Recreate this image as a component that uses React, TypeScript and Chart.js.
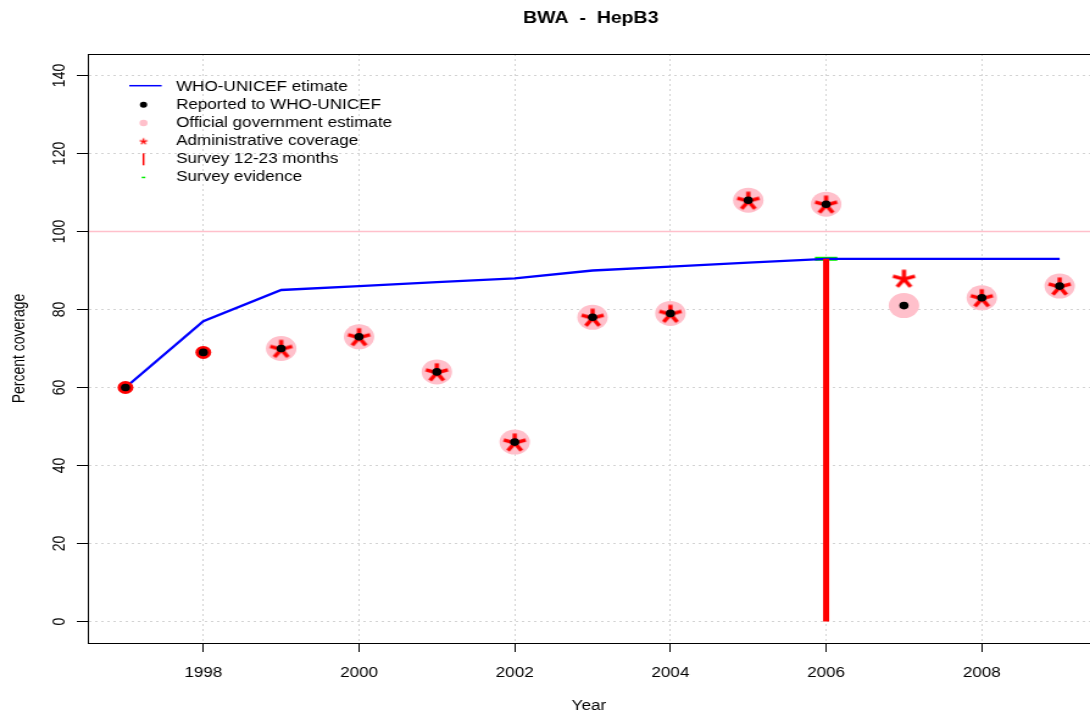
import { useEffect, useRef } from "react";
import { Chart, registerables } from "chart.js";

Chart.register(...registerables);

// ---------------- data ----------------
const years = [1997, 1998, 1999, 2000, 2001, 2002, 2003, 2004, 2005, 2006, 2007, 2008, 2009];
const whoEstimate = [60, 77, 85, 86, 87, 88, 90, 91, 92, 93, 93, 93, 93];
const reported = [60, 69, 70, 73, 64, 46, 78, 79, 108, 107, 81, 83, 86];
const official = [null, null, 70, 73, 64, 46, 78, 79, 108, 107, 81, 83, 86];
const adminCoverage = [60, 69, 70, 73, 64, 46, 78, 79, 108, 107, 88, 83, 86];
const surveyYears = [2006];
const surveyValues = [93];
const evidenceYears = [2006];
const evidenceValues = [93];
const xTicks = [1998, 2000, 2002, 2004, 2006, 2008];
const yTicks = [0, 20, 40, 60, 80, 100, 120, 140];
const referenceLine = 100;
const legendLabels = [
  "WHO-UNICEF etimate",
  "Reported to WHO-UNICEF",
  "Official government estimate",
  "Administrative coverage",
  "Survey 12-23 months",
  "Survey evidence",
];
const titleText = "BWA  -  HepB3";
const xTitle = "Year";
const yTitle = "Percent coverage";

// ---------------- layout ----------------
const CW = 894;
const CH = 717;
const FONT = '"Liberation Sans", Arial, Helvetica, sans-serif';

function makeStar(r: number, lw: number): HTMLCanvasElement {
  const size = Math.ceil(2 * r + lw * 2 + 2);
  const c = document.createElement("canvas");
  c.width = size;
  c.height = size;
  const g = c.getContext("2d")!;
  g.strokeStyle = "#ff0000";
  g.lineWidth = lw;
  g.lineCap = "butt";
  const cx = size / 2;
  const cy = size / 2 + 0.095 * r;
  for (let k = 0; k < 5; k++) {
    const a = (-90 + k * 72) * (Math.PI / 180);
    g.beginPath();
    g.moveTo(cx, cy);
    g.lineTo(cx + r * Math.cos(a), cy + r * Math.sin(a));
    g.stroke();
  }
  return c;
}

export default function App() {
  const ref = useRef<HTMLCanvasElement | null>(null);

  useEffect(() => {
    const canvas = ref.current;
    if (!canvas) return;
    const star = makeStar(9.5, 3.4);
    const smallStar = makeStar(3.2, 1.3);

    const pts = (xs: number[], ys: (number | null)[]) =>
      xs
        .map((x, i) => ({ x, y: ys[i] }))
        .filter((p) => p.y !== null && p.y !== undefined) as { x: number; y: number }[];

    const surveyBar = surveyYears.flatMap((x, i) => [
      { x, y: 0 },
      { x, y: surveyValues[i] },
    ]);

    const decor = {
      id: "rdecor",
      beforeDatasetsDraw(chart: any) {
        const { ctx, chartArea: a, scales } = chart;
        const py = scales.y.getPixelForValue(referenceLine);
        ctx.save();
        ctx.strokeStyle = "#ffc0cb";
        ctx.lineWidth = 1.6;
        ctx.beginPath();
        ctx.moveTo(a.left, py);
        ctx.lineTo(a.right, py);
        ctx.stroke();
        ctx.restore();
      },
      afterDraw(chart: any) {
        const { ctx, chartArea: a } = chart;
        ctx.save();
        // frame (R box)
        ctx.strokeStyle = "#000";
        ctx.lineWidth = 1;
        ctx.strokeRect(a.left + 0.5, a.top + 0.5, a.right - a.left + 10, a.bottom - a.top);
        // title
        ctx.fillStyle = "#000";
        ctx.font = `bold 16px ${FONT}`;
        ctx.textAlign = "center";
        ctx.textBaseline = "middle";
        ctx.fillText(titleText, (a.left + a.right) / 2 + 1.5, 18.5);
        // legend
        const sx = 117.7;
        const tx = 144.4;
        const y0 = 86.7;
        const dy = 18.15;
        ctx.font = `14px ${FONT}`;
        ctx.textAlign = "left";
        legendLabels.forEach((lab, i) => {
          const y = y0 + i * dy;
          ctx.fillStyle = "#000";
          ctx.fillText(lab, tx, y);
          if (i === 0) {
            ctx.strokeStyle = "#0000ff";
            ctx.lineWidth = 1.5;
            ctx.beginPath();
            ctx.moveTo(106, y - 1);
            ctx.lineTo(132.6, y - 1);
            ctx.stroke();
          } else if (i === 1) {
            ctx.fillStyle = "#000";
            ctx.beginPath();
            ctx.arc(sx, y, 3, 0, Math.PI * 2);
            ctx.fill();
          } else if (i === 2) {
            ctx.fillStyle = "#ffc0cb";
            ctx.beginPath();
            ctx.arc(sx, y, 3.3, 0, Math.PI * 2);
            ctx.fill();
          } else if (i === 3) {
            ctx.drawImage(smallStar, sx - smallStar.width / 2, y - smallStar.height / 2);
          } else if (i === 4) {
            ctx.strokeStyle = "#ff0000";
            ctx.lineWidth = 1.5;
            ctx.beginPath();
            ctx.moveTo(sx, y - 6);
            ctx.lineTo(sx, y + 6);
            ctx.stroke();
          } else if (i === 5) {
            ctx.strokeStyle = "#00ee00";
            ctx.lineWidth = 1.5;
            ctx.beginPath();
            ctx.moveTo(sx - 1.5, y);
            ctx.lineTo(sx + 1.5, y);
            ctx.stroke();
          }
        });
        ctx.restore();
      },
    };

    const chart = new Chart(canvas, {
      type: "scatter",
      data: {
        datasets: [
          {
            label: legendLabels[1],
            data: pts(years, reported),
            pointRadius: 3.8,
            pointBackgroundColor: "#000",
            pointBorderWidth: 0,
            showLine: false,
            order: 0,
          },
          {
            label: legendLabels[3],
            data: pts(years, adminCoverage),
            pointStyle: (c: any) => (c.dataIndex < 2 ? "circle" : star),
            pointRadius: 6.5,
            pointBackgroundColor: "#ff0000",
            pointBorderWidth: 0,
            showLine: false,
            order: 1,
          },
          {
            label: legendLabels[4],
            data: surveyBar,
            showLine: true,
            borderColor: "#ff0000",
            borderWidth: 5,
            borderCapStyle: "butt",
            pointRadius: 0,
            order: 2,
          },
          {
            label: legendLabels[0],
            data: pts(years, whoEstimate),
            showLine: true,
            borderColor: "#0000ff",
            borderWidth: 2.3,
            pointRadius: 0,
            order: 3,
          },
          {
            label: legendLabels[5],
            data: pts(evidenceYears, evidenceValues),
            showLine: false,
            pointStyle: "line",
            pointRadius: 9.2,
            pointBorderColor: "#00ee00",
            pointBorderWidth: 4,
            order: 4,
          },
          {
            label: legendLabels[2],
            data: pts(years, official),
            showLine: false,
            pointRadius: 12.5,
            pointBackgroundColor: "#ffc0cb",
            pointBorderWidth: 0,
            order: 5,
          },
        ],
      } as any,
      options: {
        animation: false,
        responsive: false,
        devicePixelRatio: 1,
        events: [],
        layout: { autoPadding: false, padding: { top: 54, left: 0, right: 0, bottom: 0 } },
        plugins: {
          legend: { display: false },
          title: { display: false },
          tooltip: { enabled: false },
        },
        scales: {
          x: {
            type: "linear",
            min: 1996.516,
            max: 2009.39,
            afterBuildTicks: (s: any) => {
              s.ticks = xTicks.map((v) => ({ value: v }));
            },
            afterFit: (s: any) => {
              s.height = 74;
              s.paddingLeft = 0;
              s.paddingRight = 0;
            },
            ticks: {
              callback: (v: any) => String(v),
              font: { size: 14, family: FONT },
              color: "#000",
              padding: 12.5,
              maxRotation: 0,
              minRotation: 0,
              autoSkip: false,
            },
            grid: {
              color: "#d3d3d3",
              lineWidth: 1,
              tickColor: "#000",
              tickLength: 9,
              tickWidth: 1,
              tickBorderDash: [],
            },
            border: { display: true, color: "#000", width: 1, dash: [2, 3] },
            title: {
              display: true,
              text: xTitle,
              font: { size: 14, family: FONT },
              color: "#000",
              padding: { top: 0, bottom: 2 },
            },
          },
          y: {
            type: "linear",
            min: -5.5,
            max: 145.5,
            afterBuildTicks: (s: any) => {
              s.ticks = yTicks.map((v) => ({ value: v }));
            },
            afterFit: (s: any) => {
              s.width = 72;
              s.paddingTop = 0;
              s.paddingBottom = 0;
            },
            ticks: {
              callback: (v: any) => String(v),
              font: { size: 14, family: FONT },
              color: "#000",
              padding: 2,
              minRotation: 90,
              maxRotation: 90,
              crossAlign: "center",
              autoSkip: false,
            },
            grid: {
              color: "#d3d3d3",
              lineWidth: 1,
              tickColor: "#000",
              tickLength: 9,
              tickWidth: 1,
              tickBorderDash: [],
            },
            border: { display: true, color: "#000", width: 1, dash: [2, 3] },
            title: {
              display: true,
              text: yTitle,
              font: { size: 14, family: FONT },
              color: "#000",
              padding: { top: 8, bottom: 0 },
            },
          },
        },
      } as any,
      plugins: [decor],
    });

    return () => chart.destroy();
  }, []);

  return (
    <div
      style={{
        position: "absolute",
        left: 0,
        top: 0,
        width: 1090,
        height: 717,
        overflow: "hidden",
        background: "#fff",
      }}
    >
      <canvas
        ref={ref}
        width={CW}
        height={CH}
        style={{ width: "1090px", height: "717px", display: "block" }}
      />
    </div>
  );
}
